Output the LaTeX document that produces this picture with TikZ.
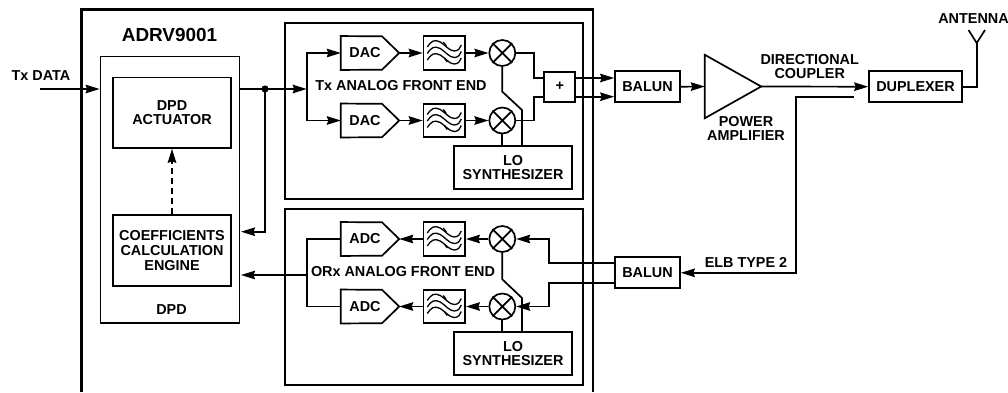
\documentclass[tikz,border=0pt]{standalone}
\usepackage{fontspec}
\setmainfont{Liberation Sans}
\usetikzlibrary{arrows.meta}
\tikzset{
  lab/.style={font=\fontsize{14.4}{14.6}\selectfont\bfseries,align=center,inner sep=0pt},
  blk/.style={draw=black,line width=1.7pt,inner sep=0pt,lab},
  ghost/.style={inner sep=0pt,lab},
  mixer/.style={draw=black,circle,line width=1.7pt,minimum size=26pt,inner sep=0pt},
  wire/.style={line width=1.7pt,line cap=butt,line join=miter},
  arr/.style={wire,-{Stealth[length=14pt,width=8.5pt,inset=1.5pt]}},
  thin/.style={line width=1.3pt}
}
\newcommand{\filt}[3]{%
  \node[blk,minimum width=41.5pt,minimum height=33.5pt] (#1) at (#2,#3) {};
  \begin{scope}[shift={(#2,#3)},thin]
    \foreach \d in {0,6.5,13}{
      \draw (-17,-6+\d) .. controls (-13,-12+\d) and (-10,-14+\d) .. (-4,-11+\d) .. controls (1,-8+\d) and (5,-2+\d) .. (10,-2+\d) .. controls (14,-2+\d) and (16,-5+\d) .. (17,-8+\d);
    }
    \draw (-1,-11) -- (2,-7);
    \draw (0,5) -- (3,9);
  \end{scope}}
\newcommand{\conv}[3]{%
  \node[ghost,minimum width=58pt,minimum height=33.5pt] (#1) at (370,#2) {};
  \draw[wire] (#1.north west) -- (382,#2-16.7) -- (#1.east) -- (382,#2+16.7) -- (#1.south west) -- cycle;
  \node[lab] at (365,#2) {#3};}
\newcommand{\mix}[3]{%
  \node[mixer] (#1) at (#2,#3) {};
  \draw[wire] (#1.north west) -- (#1.south east) (#1.north east) -- (#1.south west);}
\begin{document}
\begin{tikzpicture}[x=1pt,y=-1pt]
\useasboundingbox (0,0) rectangle (1008,392);
% outer chip
\draw[line width=2.4pt] (81.5,392) -- (81.5,9.5) -- (593,9.5) -- (593,392);
\node[lab,font=\fontsize{18.9}{19}\selectfont\bfseries] (chip) at (169.5,34.5) {ADRV9001};
% AFE frames
\node[blk,minimum width=298pt,minimum height=176pt] (txf) at (434,111) {};
\node[blk,minimum width=298pt,minimum height=176pt] (rxf) at (434,297) {};
% DPD
\node[blk,minimum width=139pt,minimum height=266.5pt] (dpd) at (170,189.7) {};
\node[lab] (dpdl) at (171.5,309.5) {DPD};
\node[blk,minimum width=118pt,minimum height=70.5pt] (act) at (172,112.7) {DPD\\ACTUATOR};
\node[blk,minimum width=118pt,minimum height=71pt] (coef) at (172,250.5) {COEFFICIENTS\\CALCULATION\\ENGINE};
\draw[wire,dash pattern=on 6pt off 4pt,-{Stealth[length=14pt,width=8.5pt,inset=1.5pt]}] (coef.north) -- (act.south);
% Tx chain
\conv{dac1}{53}{DAC}
\conv{dac2}{120.5}{DAC}
\filt{f1}{444.3}{53}
\filt{f2}{444.3}{120.5}
\mix{m1}{502.3}{53}
\mix{m2}{502.3}{120.5}
\node[blk,minimum width=31pt,minimum height=30pt] (sum) at (559.8,86.7) {+};
\node[blk,minimum width=118pt,minimum height=43pt] (lo1) at (513,167.5) {LO\\SYNTHESIZER};
\node[lab] (txl) at (401,86) {Tx ANALOG FRONT END};
% Rx chain
\conv{adc1}{239}{ADC}
\conv{adc2}{306.5}{ADC}
\filt{f3}{444.3}{239}
\filt{f4}{444.3}{306.5}
\mix{m3}{502.3}{239}
\mix{m4}{502.3}{306.5}
\node[blk,minimum width=118pt,minimum height=43pt] (lo2) at (513,353.7) {LO\\SYNTHESIZER};
\node[lab] (rxl) at (403,272) {ORx ANALOG FRONT END};
% Right side
\node[blk,minimum width=65pt,minimum height=31pt] (bal1) at (647.5,86.7) {BALUN};
\node[blk,minimum width=65pt,minimum height=31pt] (bal2) at (647.5,272.8) {BALUN};
\node[ghost,minimum width=56pt,minimum height=63pt] (pa) at (733,86.5) {};
\draw[wire] (pa.north west) -- (pa.east) -- (pa.south west) -- cycle;
\node[blk,minimum width=93pt,minimum height=31pt] (dup) at (915.5,86.7) {DUPLEXER};
\node[lab] (pal) at (746,128.5) {POWER\\AMPLIFIER};
\node[lab] (dcl) at (809.7,66.7) {DIRECTIONAL\\COUPLER};
\node[lab] (antl) at (973.5,18.7) {ANTENNA};
\node[lab] (elb) at (746,262) {ELB TYPE 2};
\node[lab] (txd) at (41,76) {Tx DATA};
% helper coordinates
\coordinate (txin) at (40,89);
\coordinate (dot) at (265,89);
\coordinate (busT) at (306.7,89);
\coordinate (busR) at (306.7,275);
% Tx wires
\draw[arr] (txin) -- (dpd.west |- txin);
\draw[wire] (dpd.east |- dot) -- (dot);
\fill (dot) circle (3.6pt);
\draw[arr] (dot) |- (241,231.7);
\draw[arr] (dot) -- (busT);
\draw[arr] (busT) |- (dac1.west);
\draw[arr] (busT) |- (dac2.west);
\draw[arr] (dac1.east) -- (f1.west);
\draw[arr] (dac2.east) -- (f2.west);
\draw[arr] (f1.east) -- (m1.west);
\draw[arr] (f2.east) -- (m2.west);
\coordinate (s1) at (544.3,78);
\coordinate (s2) at (544.3,96.7);
\draw[wire] (m1.east) -| (534,78) -- (s1);
\draw[wire] (m2.east) -| (534,96.7) -- (s2);
\draw[arr] (575.3,78) -- (bal1.west |- s1);
\draw[arr] (575.3,96.7) -- (bal1.west |- s2);
\draw[wire] (m2.south) -- (m2.south |- lo1.north);
\draw[wire] (m1.south) -- (502.3,91.7) -- (522,110) -- (522,146);
% Rx wires
\draw[arr] (f3.west) -- (adc1.east);
\draw[arr] (f4.west) -- (adc2.east);
\draw[arr] (m3.west) -- (f3.east);
\draw[arr] (m4.west) -- (f4.east);
\draw[wire] (adc1.west) -| (busR) |- (adc2.west);
\draw[arr] (busR) -- (241,275);
\coordinate (b1) at (615,263.3);
\coordinate (b2) at (615,283.3);
\draw[arr] (b1) -| (549.3,239) -- (m3.east);
\draw[arr] (b2) -| (549.3,306.5) -- (m4.east);
\draw[wire] (m4.south) -- (m4.south |- lo2.north);
\draw[wire] (m3.south) -- (502.3,279.3) -- (522,298) -- (522,332.3);
% RF wires
\draw[arr] (bal1.east) -- (pa.west);
\draw[arr] (pa.east) -- (dup.west);
\draw[wire] (dup.east) -- (976.7,86.7) -- (976.7,43);
\draw[wire] (968.5,30) -- (976.7,43) -- (985,30);
\draw[arr] (854,97) -- (796,97) -- (796,272.8) -- (bal2.east);
\end{tikzpicture}
\end{document}
